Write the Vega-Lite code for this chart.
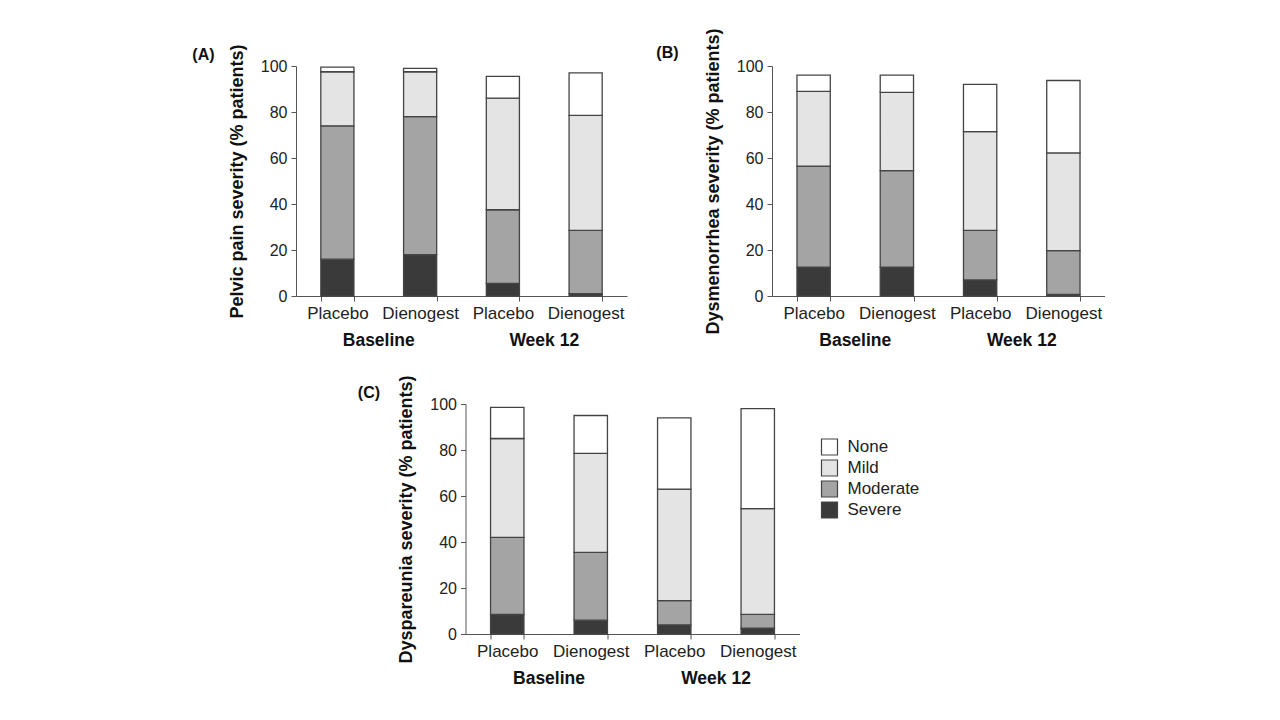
{
  "$schema": "https://vega.github.io/schema/vega-lite/v6.json",
  "background": "white",
  "padding": {"left": 192, "top": 27, "right": 0, "bottom": 0},
  "datasets": {
    "d": [
      {"panel": "A", "group": "Baseline|Placebo", "period": "Baseline", "severity": "Severe", "rank": 1, "value": 16},
      {"panel": "A", "group": "Baseline|Placebo", "period": "Baseline", "severity": "Moderate", "rank": 2, "value": 58},
      {"panel": "A", "group": "Baseline|Placebo", "period": "Baseline", "severity": "Mild", "rank": 3, "value": 23.5},
      {"panel": "A", "group": "Baseline|Placebo", "period": "Baseline", "severity": "None", "rank": 4, "value": 2},
      {"panel": "A", "group": "Baseline|Dienogest", "period": "Baseline", "severity": "Severe", "rank": 1, "value": 18},
      {"panel": "A", "group": "Baseline|Dienogest", "period": "Baseline", "severity": "Moderate", "rank": 2, "value": 60},
      {"panel": "A", "group": "Baseline|Dienogest", "period": "Baseline", "severity": "Mild", "rank": 3, "value": 19.5},
      {"panel": "A", "group": "Baseline|Dienogest", "period": "Baseline", "severity": "None", "rank": 4, "value": 1.5},
      {"panel": "A", "group": "Week 12|Placebo", "period": "Week 12", "severity": "Severe", "rank": 1, "value": 5.5},
      {"panel": "A", "group": "Week 12|Placebo", "period": "Week 12", "severity": "Moderate", "rank": 2, "value": 32},
      {"panel": "A", "group": "Week 12|Placebo", "period": "Week 12", "severity": "Mild", "rank": 3, "value": 48.5},
      {"panel": "A", "group": "Week 12|Placebo", "period": "Week 12", "severity": "None", "rank": 4, "value": 9.5},
      {"panel": "A", "group": "Week 12|Dienogest", "period": "Week 12", "severity": "Severe", "rank": 1, "value": 1},
      {"panel": "A", "group": "Week 12|Dienogest", "period": "Week 12", "severity": "Moderate", "rank": 2, "value": 27.5},
      {"panel": "A", "group": "Week 12|Dienogest", "period": "Week 12", "severity": "Mild", "rank": 3, "value": 50},
      {"panel": "A", "group": "Week 12|Dienogest", "period": "Week 12", "severity": "None", "rank": 4, "value": 18.5},

      {"panel": "B", "group": "Baseline|Placebo", "period": "Baseline", "severity": "Severe", "rank": 1, "value": 12.5},
      {"panel": "B", "group": "Baseline|Placebo", "period": "Baseline", "severity": "Moderate", "rank": 2, "value": 44},
      {"panel": "B", "group": "Baseline|Placebo", "period": "Baseline", "severity": "Mild", "rank": 3, "value": 32.5},
      {"panel": "B", "group": "Baseline|Placebo", "period": "Baseline", "severity": "None", "rank": 4, "value": 7},
      {"panel": "B", "group": "Baseline|Dienogest", "period": "Baseline", "severity": "Severe", "rank": 1, "value": 12.5},
      {"panel": "B", "group": "Baseline|Dienogest", "period": "Baseline", "severity": "Moderate", "rank": 2, "value": 42},
      {"panel": "B", "group": "Baseline|Dienogest", "period": "Baseline", "severity": "Mild", "rank": 3, "value": 34},
      {"panel": "B", "group": "Baseline|Dienogest", "period": "Baseline", "severity": "None", "rank": 4, "value": 7.5},
      {"panel": "B", "group": "Week 12|Placebo", "period": "Week 12", "severity": "Severe", "rank": 1, "value": 7},
      {"panel": "B", "group": "Week 12|Placebo", "period": "Week 12", "severity": "Moderate", "rank": 2, "value": 21.5},
      {"panel": "B", "group": "Week 12|Placebo", "period": "Week 12", "severity": "Mild", "rank": 3, "value": 43},
      {"panel": "B", "group": "Week 12|Placebo", "period": "Week 12", "severity": "None", "rank": 4, "value": 20.5},
      {"panel": "B", "group": "Week 12|Dienogest", "period": "Week 12", "severity": "Severe", "rank": 1, "value": 0.7},
      {"panel": "B", "group": "Week 12|Dienogest", "period": "Week 12", "severity": "Moderate", "rank": 2, "value": 19},
      {"panel": "B", "group": "Week 12|Dienogest", "period": "Week 12", "severity": "Mild", "rank": 3, "value": 42.5},
      {"panel": "B", "group": "Week 12|Dienogest", "period": "Week 12", "severity": "None", "rank": 4, "value": 31.5},

      {"panel": "C", "group": "Baseline|Placebo", "period": "Baseline", "severity": "Severe", "rank": 1, "value": 8.5},
      {"panel": "C", "group": "Baseline|Placebo", "period": "Baseline", "severity": "Moderate", "rank": 2, "value": 33.5},
      {"panel": "C", "group": "Baseline|Placebo", "period": "Baseline", "severity": "Mild", "rank": 3, "value": 43},
      {"panel": "C", "group": "Baseline|Placebo", "period": "Baseline", "severity": "None", "rank": 4, "value": 13.5},
      {"panel": "C", "group": "Baseline|Dienogest", "period": "Baseline", "severity": "Severe", "rank": 1, "value": 6},
      {"panel": "C", "group": "Baseline|Dienogest", "period": "Baseline", "severity": "Moderate", "rank": 2, "value": 29.5},
      {"panel": "C", "group": "Baseline|Dienogest", "period": "Baseline", "severity": "Mild", "rank": 3, "value": 43},
      {"panel": "C", "group": "Baseline|Dienogest", "period": "Baseline", "severity": "None", "rank": 4, "value": 16.5},
      {"panel": "C", "group": "Week 12|Placebo", "period": "Week 12", "severity": "Severe", "rank": 1, "value": 4},
      {"panel": "C", "group": "Week 12|Placebo", "period": "Week 12", "severity": "Moderate", "rank": 2, "value": 10.5},
      {"panel": "C", "group": "Week 12|Placebo", "period": "Week 12", "severity": "Mild", "rank": 3, "value": 48.5},
      {"panel": "C", "group": "Week 12|Placebo", "period": "Week 12", "severity": "None", "rank": 4, "value": 31},
      {"panel": "C", "group": "Week 12|Dienogest", "period": "Week 12", "severity": "Severe", "rank": 1, "value": 2.5},
      {"panel": "C", "group": "Week 12|Dienogest", "period": "Week 12", "severity": "Moderate", "rank": 2, "value": 6},
      {"panel": "C", "group": "Week 12|Dienogest", "period": "Week 12", "severity": "Mild", "rank": 3, "value": 46},
      {"panel": "C", "group": "Week 12|Dienogest", "period": "Week 12", "severity": "None", "rank": 4, "value": 43.5}
    ]
  },
  "data": {"name": "d"},
  "spacing": 25,
  "center": true,
  "vconcat": [
    {
      "spacing": 29,
      "hconcat": [
        {
          "title": {"text": "(A)", "anchor": "start", "frame": "bounds", "dx": -36, "offset": -19, "fontSize": 16, "fontWeight": "bold", "color": "#111"},
          "width": 331,
          "height": 230,
          "transform": [{"filter": "datum.panel === 'A'"}],
          "layer": [
            {
              "mark": {"type": "bar", "stroke": "#444", "strokeWidth": 1.3},
              "encoding": {
                "x": {"field": "group", "type": "nominal", "sort": ["Baseline|Placebo", "Baseline|Dienogest", "Week 12|Placebo", "Week 12|Dienogest"], "scale": {"paddingInner": 0.6, "paddingOuter": 0.3}, "axis": {"title": null, "labelExpr": "split(datum.label, '|')[1]", "labelAngle": 0, "tickBand": "extent", "labelFontSize": 17, "labelPadding": 4, "tickSize": 5}},
                "y": {"field": "value", "type": "quantitative", "stack": "zero", "scale": {"domain": [0, 100]}, "axis": {"title": "Pelvic pain severity (% patients)", "values": [0, 20, 40, 60, 80, 100]}},
                "color": {"field": "severity", "type": "nominal", "scale": {"domain": ["None", "Mild", "Moderate", "Severe"], "range": ["#ffffff", "#e4e4e4", "#a4a4a4", "#3a3a3a"]}, "legend": null},
                "order": {"field": "rank", "type": "quantitative"}
              }
            },
            {
              "mark": {"type": "bar", "opacity": 0},
              "encoding": {
                "x": {"field": "period", "type": "nominal", "scale": {"paddingInner": 0, "paddingOuter": 0}, "axis": {"orient": "bottom", "title": null, "domain": false, "ticks": false, "tickSize": 0, "labelPadding": 35, "labelFontWeight": "bold", "labelFontSize": 17.5, "labelAngle": 0, "labelColor": "#111"}}
              }
            }
          ],
          "resolve": {"scale": {"x": "independent"}, "axis": {"x": "independent"}}
        },
        {
          "title": {"text": "(B)", "anchor": "start", "frame": "bounds", "dx": -48, "offset": -33, "fontSize": 16, "fontWeight": "bold", "color": "#111"},
          "width": 333,
          "height": 230,
          "transform": [{"filter": "datum.panel === 'B'"}],
          "layer": [
            {
              "mark": {"type": "bar", "stroke": "#444", "strokeWidth": 1.3},
              "encoding": {
                "x": {"field": "group", "type": "nominal", "sort": ["Baseline|Placebo", "Baseline|Dienogest", "Week 12|Placebo", "Week 12|Dienogest"], "scale": {"paddingInner": 0.6, "paddingOuter": 0.3}, "axis": {"title": null, "labelExpr": "split(datum.label, '|')[1]", "labelAngle": 0, "tickBand": "extent", "labelFontSize": 17, "labelPadding": 4, "tickSize": 5}},
                "y": {"field": "value", "type": "quantitative", "stack": "zero", "scale": {"domain": [0, 100]}, "axis": {"title": "Dysmenorrhea severity (% patients)", "values": [0, 20, 40, 60, 80, 100]}},
                "color": {"field": "severity", "type": "nominal", "scale": {"domain": ["None", "Mild", "Moderate", "Severe"], "range": ["#ffffff", "#e4e4e4", "#a4a4a4", "#3a3a3a"]}, "legend": null},
                "order": {"field": "rank", "type": "quantitative"}
              }
            },
            {
              "mark": {"type": "bar", "opacity": 0},
              "encoding": {
                "x": {"field": "period", "type": "nominal", "scale": {"paddingInner": 0, "paddingOuter": 0}, "axis": {"orient": "bottom", "title": null, "domain": false, "ticks": false, "tickSize": 0, "labelPadding": 35, "labelFontWeight": "bold", "labelFontSize": 17.5, "labelAngle": 0, "labelColor": "#111"}}
              }
            }
          ],
          "resolve": {"scale": {"x": "independent"}, "axis": {"x": "independent"}}
        }
      ]
    },
    {
      "title": {"text": "(C)", "anchor": "start", "frame": "bounds", "dx": -40, "offset": -26, "fontSize": 16, "fontWeight": "bold", "color": "#111"},
      "width": 334,
      "height": 230,
      "transform": [{"filter": "datum.panel === 'C'"}],
      "layer": [
        {
          "mark": {"type": "bar", "stroke": "#444", "strokeWidth": 1.3},
          "encoding": {
            "x": {"field": "group", "type": "nominal", "sort": ["Baseline|Placebo", "Baseline|Dienogest", "Week 12|Placebo", "Week 12|Dienogest"], "scale": {"paddingInner": 0.6, "paddingOuter": 0.3}, "axis": {"title": null, "labelExpr": "split(datum.label, '|')[1]", "labelAngle": 0, "tickBand": "extent", "labelFontSize": 17, "labelPadding": 4, "tickSize": 5}},
            "y": {"field": "value", "type": "quantitative", "stack": "zero", "scale": {"domain": [0, 100]}, "axis": {"title": "Dyspareunia severity (% patients)", "values": [0, 20, 40, 60, 80, 100]}},
            "color": {"field": "severity", "type": "nominal", "scale": {"domain": ["None", "Mild", "Moderate", "Severe"], "range": ["#ffffff", "#e4e4e4", "#a4a4a4", "#3a3a3a"]}, "legend": {"title": null, "orient": "none", "legendX": 339, "legendY": 18, "padding": 16, "symbolType": "square", "symbolSize": 256, "symbolStrokeColor": "#444", "symbolStrokeWidth": 1.2, "symbolOpacity": 1, "labelFontSize": 17, "labelColor": "#222", "labelOffset": 9, "rowPadding": -1}},
            "order": {"field": "rank", "type": "quantitative"}
          }
        },
        {
          "mark": {"type": "bar", "opacity": 0},
          "encoding": {
            "x": {"field": "period", "type": "nominal", "scale": {"paddingInner": 0, "paddingOuter": 0}, "axis": {"orient": "bottom", "title": null, "domain": false, "ticks": false, "tickSize": 0, "labelPadding": 35, "labelFontWeight": "bold", "labelFontSize": 17.5, "labelAngle": 0, "labelColor": "#111"}}
          }
        }
      ],
      "resolve": {"scale": {"x": "independent"}, "axis": {"x": "independent"}}
    }
  ],
  "resolve": {"scale": {"color": "independent"}, "legend": {"color": "independent"}},
  "config": {
    "font": "Liberation Sans",
    "view": {"stroke": null},
    "axis": {"grid": false, "domainColor": "#555", "tickColor": "#555", "labelColor": "#222", "labelFontSize": 16, "titleFontSize": 18, "titleFontWeight": "bold", "titleColor": "#111", "tickSize": 5, "labelPadding": 4, "titlePadding": 14}
  }
}
